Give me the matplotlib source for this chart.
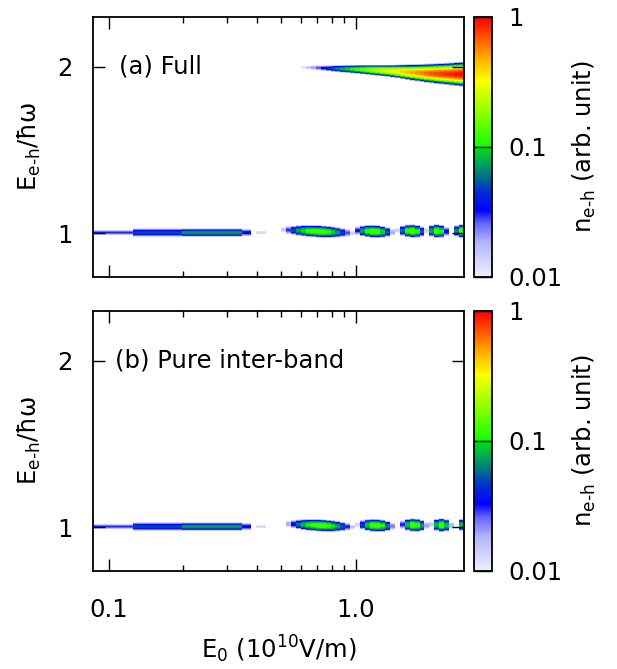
import numpy as np
import matplotlib
matplotlib.use("Agg")
import matplotlib.pyplot as plt
from matplotlib.colors import LogNorm, LinearSegmentedColormap
from matplotlib.ticker import FixedLocator, NullLocator, NullFormatter, FixedFormatter
import matplotlib.transforms as mtransforms

plt.rcParams['font.family'] = ['DejaVu Sans']
plt.rcParams['mathtext.fontset'] = 'dejavusans'
FS = 17.5

# ---------------- data ----------------
x_range = (0.0864, 2.75)      # E0 (1e10 V/m), log axis
y_range = (0.74, 2.30)        # E_e-h / hbar omega
x_ticks = [0.1, 1.0]
x_ticklabels = ["0.1", "1.0"]
x_minor = [0.2, 0.3, 0.4, 0.5, 0.6, 0.7, 0.8, 0.9]
y_ticks = [1, 2]
cb_ticks = [0.01, 0.1, 1]
cb_ticklabels = ["0.01", "0.1", "1"]

# one-photon baseline line near E = 1 (same in both panels)
base_x0 = [0.0864, 0.123, 0.194, 0.337, 0.400]
base_x1 = [0.123, 0.194, 0.337, 0.384, 0.433]
base_peak = [0.030, 0.050, 0.072, 0.035, 0.013]
base_half = [0.015, 0.026, 0.026, 0.022, 0.010]
base_y = 1.005

# islands near E = 1, panel (a)
a_blob_x = [0.703, 1.186, 1.691, 2.156, 2.697]
a_blob_y = [1.012, 1.012, 1.014, 1.014, 1.014]
a_blob_peak = [0.125, 0.13, 0.13, 0.125, 0.125]
a_blob_wx = [0.150, 0.084, 0.063, 0.047, 0.038]
a_blob_wy = [0.038, 0.040, 0.041, 0.042, 0.042]

# islands near E = 1, panel (b)
b_blob_x = [0.717, 1.209, 1.723, 2.238, 2.800]
b_blob_y = [1.012, 1.012, 1.014, 1.014, 1.014]
b_blob_peak = [0.125, 0.13, 0.13, 0.125, 0.125]
b_blob_wx = [0.144, 0.078, 0.060, 0.044, 0.038]
b_blob_wy = [0.038, 0.040, 0.041, 0.042, 0.042]

# two-photon band near E = 2, panel (a) only
band_x = [0.611, 0.671, 0.787, 1.012, 1.377, 1.707, 2.197, 2.748]
band_peak = [0.011, 0.02, 0.045, 0.12, 0.30, 0.50, 0.80, 1.00]
band_center = [1.995, 1.995, 1.99, 1.985, 1.975, 1.965, 1.958, 1.955]
band_half = [0.008, 0.013, 0.019, 0.028, 0.038, 0.051, 0.065, 0.078]

# gnuplot-like palette (position on log colour axis, colour)
cmap_pos = [0.0, 0.13, 0.205, 0.256, 0.33, 0.385, 0.45, 0.49, 0.51, 0.64, 0.756, 0.86, 1.0]
cmap_col = ['#eeeeff', '#b3b3ff', '#6666ff', '#0000ff', '#0033cc', '#007388',
            '#00b34d', '#00d91a', '#1aff00', '#99ff00', '#ffff00', '#ff9900', '#ff0000']

# ---------------- build the maps ----------------
nx, ny = 75, 520
lx_edges = np.linspace(np.log10(x_range[0]), np.log10(x_range[1]), nx + 1)
x_edges = 10 ** lx_edges
y_edges = np.linspace(y_range[0], y_range[1], ny + 1)
lxc = 0.5 * (lx_edges[:-1] + lx_edges[1:])
yc = 0.5 * (y_edges[:-1] + y_edges[1:])
LX, Y = np.meshgrid(lxc, yc)
FLOOR = 0.01


def profile(p, r2, power=1.0):
    return p * np.exp(-np.log(p / FLOOR) * r2 ** power)


def build(bx, by, bp, bwx, bwy, with_band):
    V = np.zeros_like(LX)
    for x0, x1, p, h in zip(base_x0, base_x1, base_peak, base_half):
        m = (LX >= np.log10(x0)) & (LX < np.log10(x1))
        v = profile(p, ((Y - base_y) / h) ** 2)
        V = np.where(m, np.maximum(V, v), V)
    for xc_, yc_, p, wx, wy in zip(bx, by, bp, bwx, bwy):
        dl = LX - np.log10(xc_)
        ycen = yc_ - 0.07 * dl
        r2 = (dl / wx) ** 2 + ((Y - ycen) / wy) ** 2
        V = np.maximum(V, profile(p, r2, 1.25))
    if with_band:
        lbx = np.log10(band_x)
        pk = np.interp(LX, lbx, band_peak)
        cen = np.interp(LX, lbx, band_center)
        hh = np.interp(LX, lbx, band_half)
        v = profile(pk, ((Y - cen) / hh) ** 2)
        v = np.where(LX >= lbx[0], v, 0)
        V = np.maximum(V, v)
    return np.ma.masked_less(V, FLOOR)


Va = build(a_blob_x, a_blob_y, a_blob_peak, a_blob_wx, a_blob_wy, True)
Vb = build(b_blob_x, b_blob_y, b_blob_peak, b_blob_wx, b_blob_wy, False)

cmap = LinearSegmentedColormap.from_list('gp', list(zip(cmap_pos, cmap_col)))
norm = LogNorm(vmin=0.01, vmax=1)

# ---------------- figure ----------------
W, H = 617, 669
fig = plt.figure(figsize=(W / 100, H / 100), dpi=100)


def px_rect(l, t, r, b):
    return [l / W, 1 - b / H, (r - l) / W, (b - t) / H]


ax_a = fig.add_axes(px_rect(93.3, 16.7, 464, 276.7))
ax_b = fig.add_axes(px_rect(93.3, 310.7, 464, 570.7))
cax_a = fig.add_axes(px_rect(474, 16.7, 492, 276.7))
cax_b = fig.add_axes(px_rect(474, 310.7, 492, 570.7))

for ax, V, cax, lab, lx, top in [(ax_a, Va, cax_a, "(a) Full", 119, 146.7),
                                 (ax_b, Vb, cax_b, "(b) Pure inter-band", 115, 440.7)]:
    mesh = ax.pcolormesh(x_edges, y_edges, V, cmap=cmap, norm=norm, shading='flat')
    ax.set_xscale('log')
    ax.set_xlim(*x_range)
    ax.set_ylim(*y_range)
    ax.xaxis.set_major_locator(FixedLocator(x_ticks))
    ax.xaxis.set_major_formatter(FixedFormatter(x_ticklabels))
    ax.xaxis.set_minor_locator(FixedLocator(x_minor))
    ax.xaxis.set_minor_formatter(NullFormatter())
    ax.yaxis.set_major_locator(FixedLocator(y_ticks))
    ax.yaxis.set_minor_locator(NullLocator())
    ax.tick_params(which='major', direction='in', length=8.6, width=1.0,
                   top=True, right=True, labelsize=FS)
    ax.tick_params(which='minor', direction='in', length=4.0, width=1.0,
                   top=True, right=True)
    ax.tick_params(axis='y', pad=15)
    ax.tick_params(axis='x', pad=20)
    for s in ax.spines.values():
        s.set_linewidth(1.3)
    tr = mtransforms.blended_transform_factory(ax.transAxes, ax.transData)
    ax.text((lx - 93.3) / (464 - 93.3), 2.0, lab, transform=tr, fontsize=FS,
            ha='left', va='center')
    fig.text(29 / W, 1 - top / H, "E$_{\\mathregular{e\u2010h}}$/\u0127\u03c9",
             rotation=90, ha='center', va='center', fontsize=FS)

    cb = fig.colorbar(mesh, cax=cax)
    cb.outline.set_linewidth(1.3)
    cax.yaxis.set_major_locator(FixedLocator(cb_ticks))
    cax.yaxis.set_major_formatter(FixedFormatter(cb_ticklabels))
    cax.yaxis.set_minor_locator(NullLocator())
    cax.tick_params(which='major', direction='in', length=6.6, width=1.0,
                    left=True, right=True, labelsize=FS, pad=12)
    fig.text(584 / W, 1 - top / H, "n$_{\\mathregular{e\u2010h}}$ (arb. unit)",
             rotation=90, ha='center', va='center', fontsize=FS)

ax_a.tick_params(axis='x', labelbottom=False)

fig.text(278.7 / W, 1 - 658 / H, "E$_{\\mathregular{0}}$ (10$^{\\mathregular{10}}$V/m)",
         ha='center', va='baseline', fontsize=FS)

fig.savefig("out.png", dpi=100)
